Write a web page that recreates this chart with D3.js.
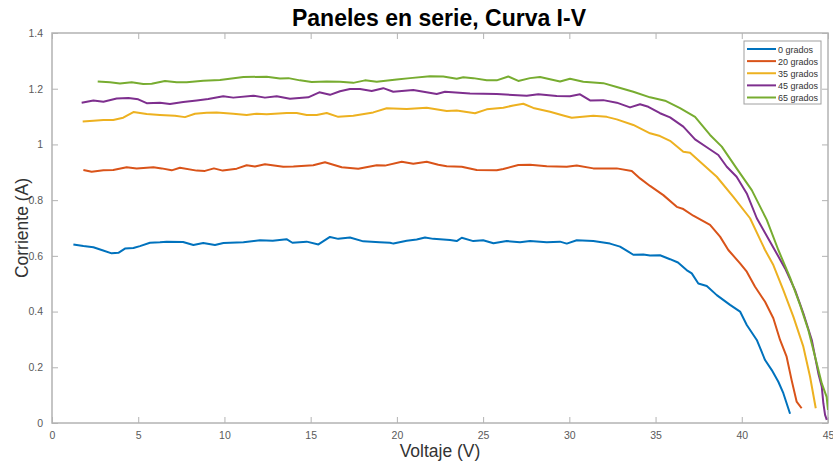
<!DOCTYPE html>
<html><head><meta charset="utf-8">
<script src="https://cdn.jsdelivr.net/npm/d3@7"></script>
<style>body{margin:0;background:#fff}svg{display:block}</style>
</head><body><svg id="c" width="833" height="464"></svg>
<script>
const seriesNames = ["0 grados","20 grados","35 grados","45 grados","65 grados"];
const seriesColors = ["#0072BD","#D95319","#EDB120","#7E2F8E","#77AC30"];
const xTicks = [0,5,10,15,20,25,30,35,40,45];
const yTicks = [0,0.2,0.4,0.6,0.8,1,1.2,1.4];

// [voltage, current]
const grados0 = [[1.24,0.641],[1.82,0.635],[2.4,0.631],[2.88,0.621],[3.46,0.609],[3.85,0.611],[4.23,0.626],[4.72,0.628],[5.1,0.635],[5.68,0.647],[6.26,0.649],[6.65,0.651],[7.6,0.650],[8.2,0.639],[8.77,0.646],[9.45,0.639],[9.94,0.646],[11.1,0.649],[12.06,0.656],[12.8,0.654],[13.6,0.660],[13.94,0.647],[14.77,0.651],[15.45,0.641],[16.12,0.668],[16.6,0.661],[17.28,0.666],[18.05,0.652],[19.0,0.649],[19.6,0.647],[19.8,0.644],[20.57,0.654],[21.15,0.659],[21.63,0.666],[22.11,0.661],[23.08,0.657],[23.47,0.653],[23.76,0.665],[24.43,0.653],[25.0,0.656],[25.6,0.645],[26.37,0.653],[27.14,0.649],[27.72,0.653],[28.69,0.649],[29.46,0.651],[29.85,0.644],[30.43,0.656],[31.39,0.653],[32.36,0.644],[32.94,0.633],[33.42,0.615],[33.71,0.604],[34.29,0.605],[34.68,0.601],[35.26,0.602],[35.84,0.588],[36.3,0.576],[36.8,0.549],[37.1,0.537],[37.48,0.501],[37.97,0.492],[38.55,0.459],[39.32,0.424],[39.9,0.400],[40.29,0.352],[40.87,0.298],[41.35,0.226],[41.74,0.190],[42.12,0.148],[42.41,0.107],[42.8,0.033]];
const grados20 = [[1.82,0.908],[2.3,0.902],[2.98,0.907],[3.55,0.908],[4.33,0.918],[4.91,0.914],[5.88,0.918],[6.36,0.914],[6.94,0.907],[7.42,0.916],[8.39,0.906],[8.87,0.905],[9.39,0.914],[9.9,0.906],[10.71,0.913],[11.29,0.925],[11.77,0.921],[12.35,0.929],[13.41,0.920],[14.0,0.921],[15.15,0.925],[15.83,0.936],[16.8,0.918],[17.76,0.913],[18.83,0.925],[19.31,0.924],[20.28,0.938],[20.95,0.931],[21.73,0.938],[22.4,0.927],[22.89,0.922],[23.76,0.920],[24.63,0.908],[25.79,0.907],[26.17,0.912],[27.04,0.926],[27.72,0.927],[28.69,0.922],[29.85,0.920],[30.43,0.924],[31.39,0.914],[32.75,0.914],[33.62,0.905],[34.1,0.878],[34.68,0.851],[35.45,0.818],[36.23,0.776],[36.61,0.768],[37.19,0.744],[38.16,0.711],[38.74,0.669],[39.22,0.621],[39.9,0.573],[40.29,0.543],[40.77,0.489],[41.35,0.435],[41.83,0.376],[42.22,0.298],[42.6,0.238],[42.89,0.154],[43.18,0.077],[43.47,0.053]];
const grados35 = [[1.78,1.082],[2.4,1.085],[2.98,1.088],[3.55,1.088],[4.13,1.096],[4.72,1.116],[5.49,1.109],[6.26,1.106],[7.13,1.103],[7.71,1.098],[8.29,1.110],[8.97,1.114],[9.55,1.115],[10.51,1.110],[11.29,1.106],[11.87,1.110],[12.45,1.108],[13.61,1.113],[14.19,1.113],[14.77,1.106],[15.35,1.106],[15.93,1.113],[16.6,1.099],[17.47,1.103],[18.63,1.115],[19.41,1.130],[20.57,1.127],[21.73,1.132],[22.89,1.120],[23.47,1.122],[24.53,1.112],[25.21,1.126],[26.17,1.132],[26.75,1.140],[27.33,1.146],[27.91,1.131],[28.88,1.117],[29.65,1.104],[30.14,1.096],[31.39,1.103],[32.17,1.099],[32.75,1.090],[33.71,1.070],[34.68,1.040],[35.26,1.030],[35.84,1.013],[36.61,0.974],[37.0,0.970],[37.58,0.938],[38.55,0.884],[39.51,0.812],[40.48,0.735],[41.35,0.621],[41.83,0.567],[42.41,0.477],[42.99,0.382],[43.57,0.274],[43.96,0.166],[44.29,0.053]];
const grados45 = [[1.72,1.150],[2.4,1.158],[2.98,1.153],[3.75,1.165],[4.43,1.167],[5.0,1.162],[5.49,1.148],[6.26,1.150],[6.84,1.145],[7.61,1.152],[8.39,1.158],[9.06,1.163],[9.93,1.173],[10.51,1.168],[11.67,1.175],[12.35,1.168],[13.03,1.173],[13.8,1.164],[14.86,1.169],[15.5,1.187],[16.12,1.178],[16.7,1.191],[17.28,1.199],[17.86,1.199],[18.54,1.192],[19.21,1.202],[19.79,1.189],[20.95,1.195],[22.31,1.181],[22.79,1.189],[24.24,1.183],[25.79,1.181],[27.53,1.175],[28.2,1.180],[29.27,1.174],[30.04,1.173],[30.62,1.180],[31.2,1.158],[31.97,1.159],[32.75,1.150],[33.52,1.133],[34.1,1.144],[34.58,1.135],[35.26,1.112],[35.84,1.097],[36.61,1.064],[37.29,1.018],[37.97,0.990],[38.64,0.962],[39.13,0.920],[39.7,0.884],[40.29,0.824],[40.87,0.735],[41.64,0.651],[42.51,0.555],[43.09,0.477],[43.57,0.394],[44.06,0.298],[44.44,0.178],[44.64,0.130],[44.73,0.071],[44.83,0.029],[44.93,0.011]];
const grados65 = [[2.65,1.226],[3.36,1.223],[3.94,1.219],[4.62,1.223],[5.29,1.217],[5.78,1.218],[6.55,1.228],[7.23,1.223],[7.81,1.223],[8.77,1.229],[9.74,1.231],[11.1,1.242],[12.45,1.243],[13.22,1.237],[13.71,1.238],[14.38,1.230],[15.06,1.224],[15.93,1.226],[16.7,1.225],[17.47,1.221],[18.15,1.230],[18.83,1.225],[19.99,1.233],[20.76,1.238],[21.92,1.245],[22.69,1.244],[23.47,1.236],[23.85,1.241],[24.43,1.238],[25.21,1.230],[25.79,1.230],[26.46,1.244],[27.04,1.228],[27.72,1.238],[28.3,1.242],[29.46,1.226],[30.04,1.236],[30.81,1.225],[31.97,1.220],[32.75,1.206],[33.71,1.189],[34.68,1.169],[35.55,1.157],[36.42,1.130],[37.29,1.099],[38.16,1.034],[38.84,0.992],[39.7,0.914],[40.58,0.836],[41.45,0.729],[42.12,0.621],[42.8,0.522],[43.38,0.424],[43.86,0.334],[44.25,0.238],[44.64,0.142],[44.92,0.094],[45.0,0.047]];
const allSeries = [grados0, grados20, grados35, grados45, grados65];

const svg = d3.select("#c");
const L = 52, R = 828, T = 33, B = 423;
const x = d3.scaleLinear().domain([0,45]).range([L,R]);
const y = d3.scaleLinear().domain([0,1.4]).range([B,T]);
const axisColor = "#b3b3b3", textColor = "#5a5a5a";
const font = "'Liberation Sans', Arial, sans-serif";

// box
svg.append("rect").attr("x",L).attr("y",T).attr("width",R-L).attr("height",B-T)
  .attr("fill","#fff").attr("stroke",axisColor).attr("stroke-width",1.5);

const fmt = d => d3.format("~g")(d);
function styleAxis(g){
  g.select(".domain").remove();
  g.selectAll(".tick line").attr("stroke",axisColor).attr("stroke-width",1);
  g.selectAll(".tick text").attr("fill",textColor).attr("font-family",font).attr("font-size",10.5);
}
svg.append("g").attr("transform",`translate(0,${B})`)
  .call(d3.axisBottom(x).tickValues(xTicks).tickFormat(fmt).tickSizeInner(-6).tickSizeOuter(0).tickPadding(9)).call(styleAxis);
svg.append("g").attr("transform",`translate(0,${T})`)
  .call(d3.axisTop(x).tickValues(xTicks).tickFormat("").tickSizeInner(-6).tickSizeOuter(0)).call(styleAxis);
svg.append("g").attr("transform",`translate(${L},0)`)
  .call(d3.axisLeft(y).tickValues(yTicks).tickFormat(fmt).tickSizeInner(-6).tickSizeOuter(0).tickPadding(9)).call(styleAxis);
svg.append("g").attr("transform",`translate(${R},0)`)
  .call(d3.axisRight(y).tickValues(yTicks).tickFormat("").tickSizeInner(-6).tickSizeOuter(0)).call(styleAxis);

const line = d3.line().x(d=>x(d[0])).y(d=>y(d[1]));
svg.append("clipPath").attr("id","pc").append("rect").attr("x",L).attr("y",T).attr("width",R-L).attr("height",B-T);
svg.append("g").attr("clip-path","url(#pc)").selectAll("path.s").data(allSeries).join("path")
  .attr("class","s").attr("d",line).attr("fill","none")
  .attr("stroke",(d,i)=>seriesColors[i]).attr("stroke-width",2).attr("stroke-linejoin","round");

// title & labels
svg.append("text").attr("x",439).attr("y",26).attr("text-anchor","middle")
  .attr("font-family",font).attr("font-weight","bold").attr("font-size",23).attr("fill","#000")
  .text("Paneles en serie, Curva I-V");
svg.append("text").attr("x",440).attr("y",457).attr("text-anchor","middle")
  .attr("font-family",font).attr("font-size",17.5).attr("fill","#333").text("Voltaje (V)");
svg.append("text").attr("transform","translate(28,228) rotate(-90)").attr("text-anchor","middle")
  .attr("font-family",font).attr("font-size",17.5).attr("fill","#333").text("Corriente (A)");

// legend
const lg = svg.append("g");
lg.append("rect").attr("x",744).attr("y",41).attr("width",77).attr("height",63)
  .attr("fill","#fff").attr("stroke","#a0a0a0").attr("stroke-width",1);
const ly = d3.scalePoint().domain(seriesNames).range([49,97.5]);
seriesNames.forEach((n,i)=>{
  lg.append("line").attr("x1",747).attr("x2",776).attr("y1",ly(n)).attr("y2",ly(n))
    .attr("stroke",seriesColors[i]).attr("stroke-width",2);
  lg.append("text").attr("x",778).attr("y",ly(n)+3.5).attr("font-family",font).attr("font-size",9)
    .attr("fill","#333").text(n);
});
</script></body></html>
